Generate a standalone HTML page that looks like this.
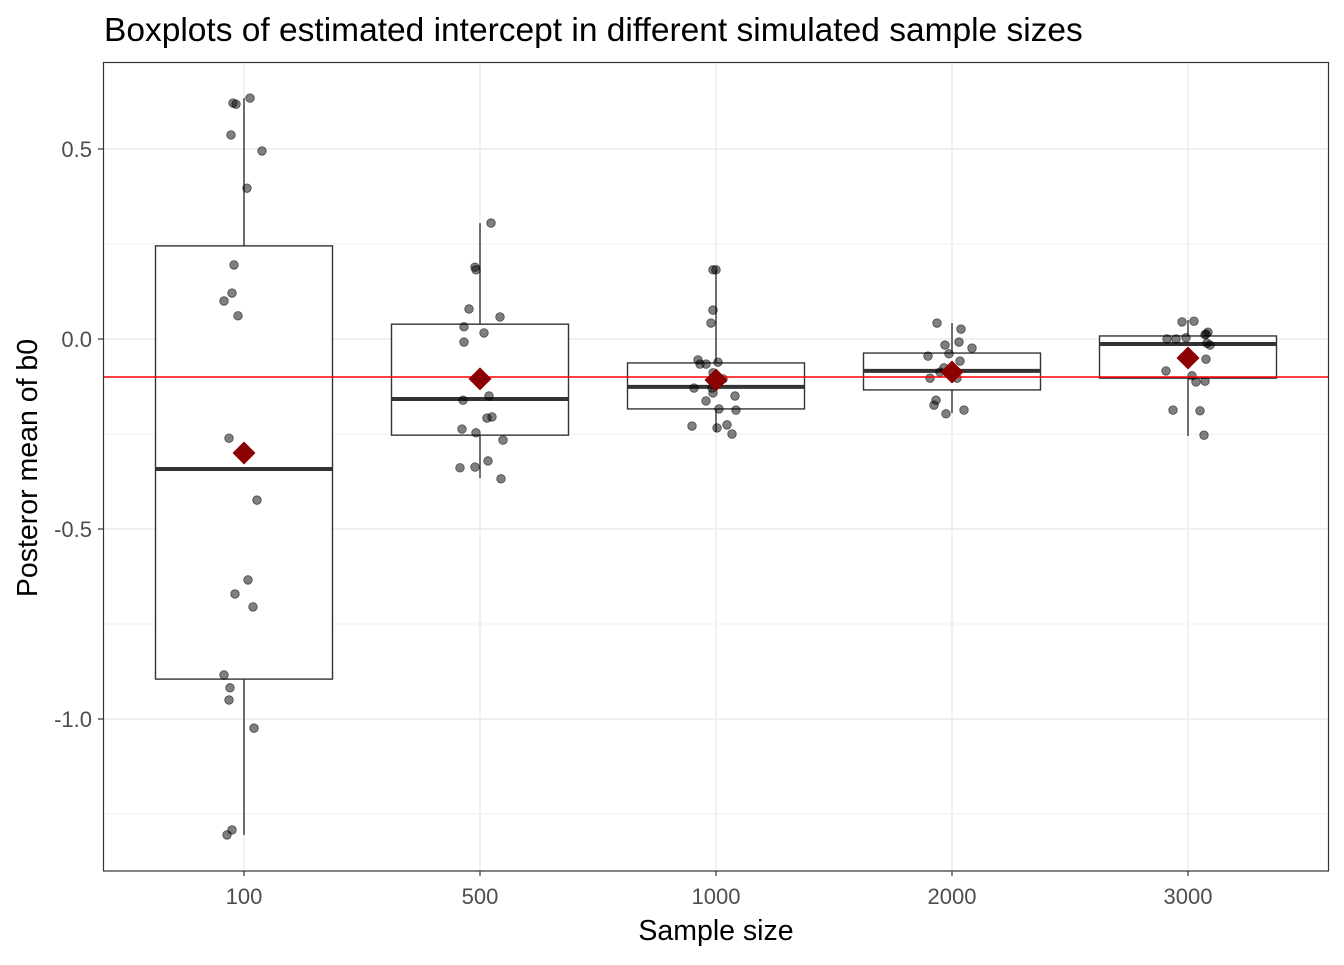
<!DOCTYPE html>
<html><head><meta charset="utf-8"><style>
body{margin:0;background:#fff;}
svg text{font-family:"Liberation Sans",sans-serif;}
</style></head><body>
<svg id="chart" width="1344" height="960" xmlns="http://www.w3.org/2000/svg">
<rect width="1344" height="960" fill="#fff"/>
<text x="104" y="41" font-size="33.5" fill="#000">Boxplots of estimated intercept in different simulated sample sizes</text>
<g id="grid"></g><g id="marks"></g>
<rect x="103.5" y="62.5" width="1225" height="808.5" fill="none" stroke="#333" stroke-width="1.2"/>
<g id="axes"></g>
<text x="716" y="940" font-size="28.5" text-anchor="middle" fill="#000">Sample size</text>
<text transform="translate(37,468) rotate(-90)" font-size="28.5" text-anchor="middle" fill="#000">Posteror mean of b0</text>
</svg>
<script>
const categories=["100","500","1000","2000","3000"];
const whiskerHigh=[0.634,0.305,0.182,0.042,0.05];
const q3=[0.245,0.039,-0.063,-0.037,0.008];
const medians=[-0.342,-0.158,-0.126,-0.084,-0.013];
const q1=[-0.895,-0.253,-0.184,-0.134,-0.103];
const whiskerLow=[-1.305,-0.366,-0.245,-0.195,-0.255];
const means=[-0.3,-0.105,-0.108,-0.087,-0.05];
const refLine=-0.1;
const yTicks=[0.5,0,-0.5,-1.0];
const yTickLabels=["0.5","0.0","-0.5","-1.0"];
const yMinor=[0.25,-0.25,-0.75,-1.25];
const pts100=[0.621,0.618,0.634,0.537,0.495,0.397,0.195,0.121,0.1,0.061,-0.261,-0.424,-0.634,-0.671,-0.705,-0.884,-0.918,-0.95,-1.024,-1.305,-1.292];
const jit100=[-11,-8,6,-13,18,3,-10,-12,-20,-6,-15,13,4,-9,9,-20,-14,-15,10,-17,-12];
const pts500=[0.305,0.189,0.182,0.079,0.058,0.032,0.016,-0.008,-0.161,-0.15,-0.208,-0.205,-0.237,-0.247,-0.266,-0.321,-0.337,-0.339,-0.368];
const jit500=[11,-5,-4,-11,20,-16,4,-16,-17,9,7,12,-18,-4,23,8,-5,-20,21];
const pts1000=[0.182,0.182,0.076,0.042,-0.055,-0.066,-0.066,-0.061,-0.089,-0.097,-0.105,-0.129,-0.129,-0.142,-0.15,-0.163,-0.184,-0.187,-0.226,-0.229,-0.234,-0.25];
const jit1000=[-3,0,-3,-5,-18,-16,-10,2,-3,0,7,-22,-4,-3,19,-10,3,20,11,-24,1,16];
const pts2000=[0.042,0.026,-0.016,-0.008,-0.024,-0.045,-0.039,-0.058,-0.076,-0.087,-0.103,-0.103,-0.161,-0.174,-0.187,-0.197];
const jit2000=[-15,9,-7,7,20,-24,-3,8,-8,-12,-22,5,-16,-18,12,-6];
const pts3000=[0.047,0.045,0.018,0.013,0.011,0,0,0.003,-0.011,-0.016,-0.053,-0.084,-0.097,-0.113,-0.111,-0.187,-0.189,-0.253];
const jit3000=[6,-6,20,18,17,-21,-12,-2,19,22,18,-22,4,8,17,-15,12,16];
const allPts=[pts100,pts500,pts1000,pts2000,pts3000];
const allJit=[jit100,jit500,jit1000,jit2000,jit3000];

const NS="http://www.w3.org/2000/svg";
const L=103,R=1329,T=62,B=871;
function y(v){return 339-v*380;}
function x(i){return 244+i*236;}
function mk(p,tag,a){const e=document.createElementNS(NS,tag);for(const k in a)e.setAttribute(k,a[k]);p.appendChild(e);return e;}
const grid=document.getElementById('grid'),marks=document.getElementById('marks'),axes=document.getElementById('axes');
yMinor.forEach(v=>{const e=mk(grid,'line',{x1:L,x2:R,y1:y(v),y2:y(v),stroke:'#ebebeb','stroke-width':0.7});

});
yTicks.forEach((v,i)=>{const e=mk(grid,'line',{x1:L,x2:R,y1:y(v),y2:y(v),stroke:'#ebebeb','stroke-width':1.4});


const t=mk(axes,'line',{x1:L-5,x2:L,y1:y(v),y2:y(v),stroke:'#333','stroke-width':1.2});


const tx=mk(axes,'text',{x:L-11,y:y(v)+8,'font-size':22,'text-anchor':'end',fill:'#4d4d4d'});tx.textContent=yTickLabels[i];

});
categories.forEach((c,i)=>{const e=mk(grid,'line',{x1:x(i),x2:x(i),y1:T,y2:B,stroke:'#ebebeb','stroke-width':1.4});


const t=mk(axes,'line',{x1:x(i),x2:x(i),y1:B,y2:B+5,stroke:'#333','stroke-width':1.2});


const tx=mk(axes,'text',{x:x(i),y:B+33,'font-size':22,'text-anchor':'middle',fill:'#4d4d4d'});tx.textContent=c;

});
const hw=88.5;
categories.forEach((c,i)=>{const g=mk(marks,'g',{});


mk(g,'line',{x1:x(i),x2:x(i),y1:y(whiskerHigh[i]),y2:y(q3[i]),stroke:'#333','stroke-width':1.4});
mk(g,'line',{x1:x(i),x2:x(i),y1:y(q1[i]),y2:y(whiskerLow[i]),stroke:'#333','stroke-width':1.4});
mk(g,'rect',{x:x(i)-hw,y:y(q3[i]),width:2*hw,height:y(q1[i])-y(q3[i]),fill:'#fff',stroke:'#333','stroke-width':1.4});
mk(g,'line',{x1:x(i)-hw,x2:x(i)+hw,y1:y(medians[i]),y2:y(medians[i]),stroke:'#333','stroke-width':4});});
allPts.forEach((arr,i)=>arr.forEach((v,j)=>{const p=mk(marks,'circle',{cx:x(i)+allJit[i][j],cy:y(v),r:4.3,fill:'rgba(0,0,0,0.5)',stroke:'rgba(0,0,0,0.6)','stroke-width':0.8});

}));
const rl=mk(marks,'line',{x1:L,x2:R,y1:y(refLine),y2:y(refLine),stroke:'#f00','stroke-width':1.5});


means.forEach((v,i)=>{const cx=x(i),cy=y(v),d=11.5;
const m=mk(marks,'polygon',{points:`${cx},${cy-d} ${cx+d},${cy} ${cx},${cy+d} ${cx-d},${cy}`,fill:'#8b0000'});

});
</script>
</body></html>
